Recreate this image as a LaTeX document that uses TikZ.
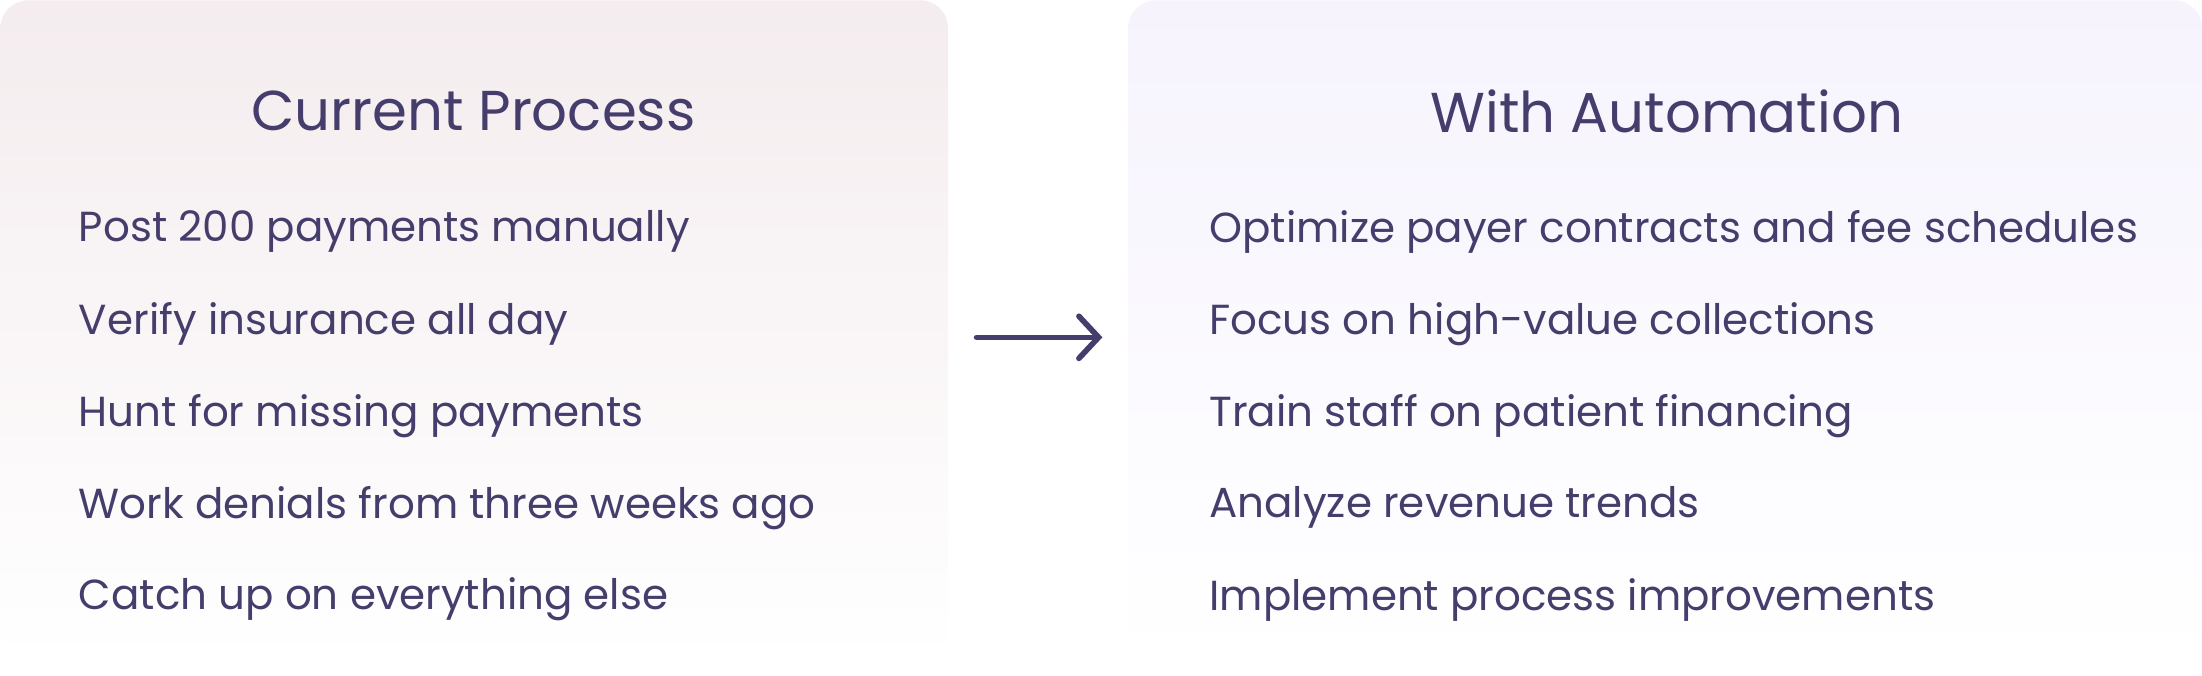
\documentclass[tikz,border=0pt]{standalone}
\usepackage{fontspec}
\setmainfont{Poppins}
\usetikzlibrary{arrows.meta, positioning}
\definecolor{ink}{HTML}{453D6B}
\definecolor{pinkbg}{HTML}{F4ECEE}
\definecolor{lilacbg}{HTML}{F6F3FD}
\begin{document}
\begin{tikzpicture}[x=1pt, y=1pt,
  panel/.style={rounded corners=20pt, minimum height=470pt, inner sep=0pt,
                anchor=north west, middle color=#1, top color=#1, bottom color=white},
  head/.style={text=ink, font=\fontsize{40}{48}\selectfont},
  item/.style={text=ink, font=\fontsize{29.9}{35}\selectfont, anchor=west, inner sep=0pt},
  arr/.style={-{Straight Barb[length=14pt, width=30pt, line cap=round]}, line width=4pt,
              draw=ink, line cap=round}]
  \useasboundingbox (0,0) rectangle (1568,-481);
  \node[panel=pinkbg, minimum width=675pt] (cur) at (0,0) {};
  \node[panel=lilacbg, minimum width=765pt] (auto) at (803,0) {};
  \node[head] (curT) at (337,-79) {Current Process};
  \node[head] (autoT) at (1187,-79) {With Automation};
  % left column
  \node[item] (c1) at (56,-165) {Post 200 payments manually};
  \node[item, below=65.5pt of c1.west, anchor=west] (c2) {Verify insurance all day};
  \node[item, below=65.5pt of c2.west, anchor=west] (c3) {Hunt for missing payments};
  \node[item, below=65.5pt of c3.west, anchor=west] (c4) {Work denials from three weeks ago};
  \node[item, below=65.5pt of c4.west, anchor=west] (c5) {Catch up on everything else};
  % right column
  \node[item] (a1) at (861,-165) {Optimize payer contracts and fee schedules};
  \node[item, below=65.5pt of a1.west, anchor=west] (a2) {Focus on high-value collections};
  \node[item, below=65.5pt of a2.west, anchor=west] (a3) {Train staff on patient financing};
  \node[item, below=65.5pt of a3.west, anchor=west] (a4) {Analyze revenue trends};
  \node[item, below=65.5pt of a4.west, anchor=west] (a5) {Implement process improvements};
  \draw[arr, shorten <=20pt, shorten >=18pt] ([yshift=-5pt]cur.east) -- ([yshift=-5pt]auto.west);
\end{tikzpicture}
\end{document}
